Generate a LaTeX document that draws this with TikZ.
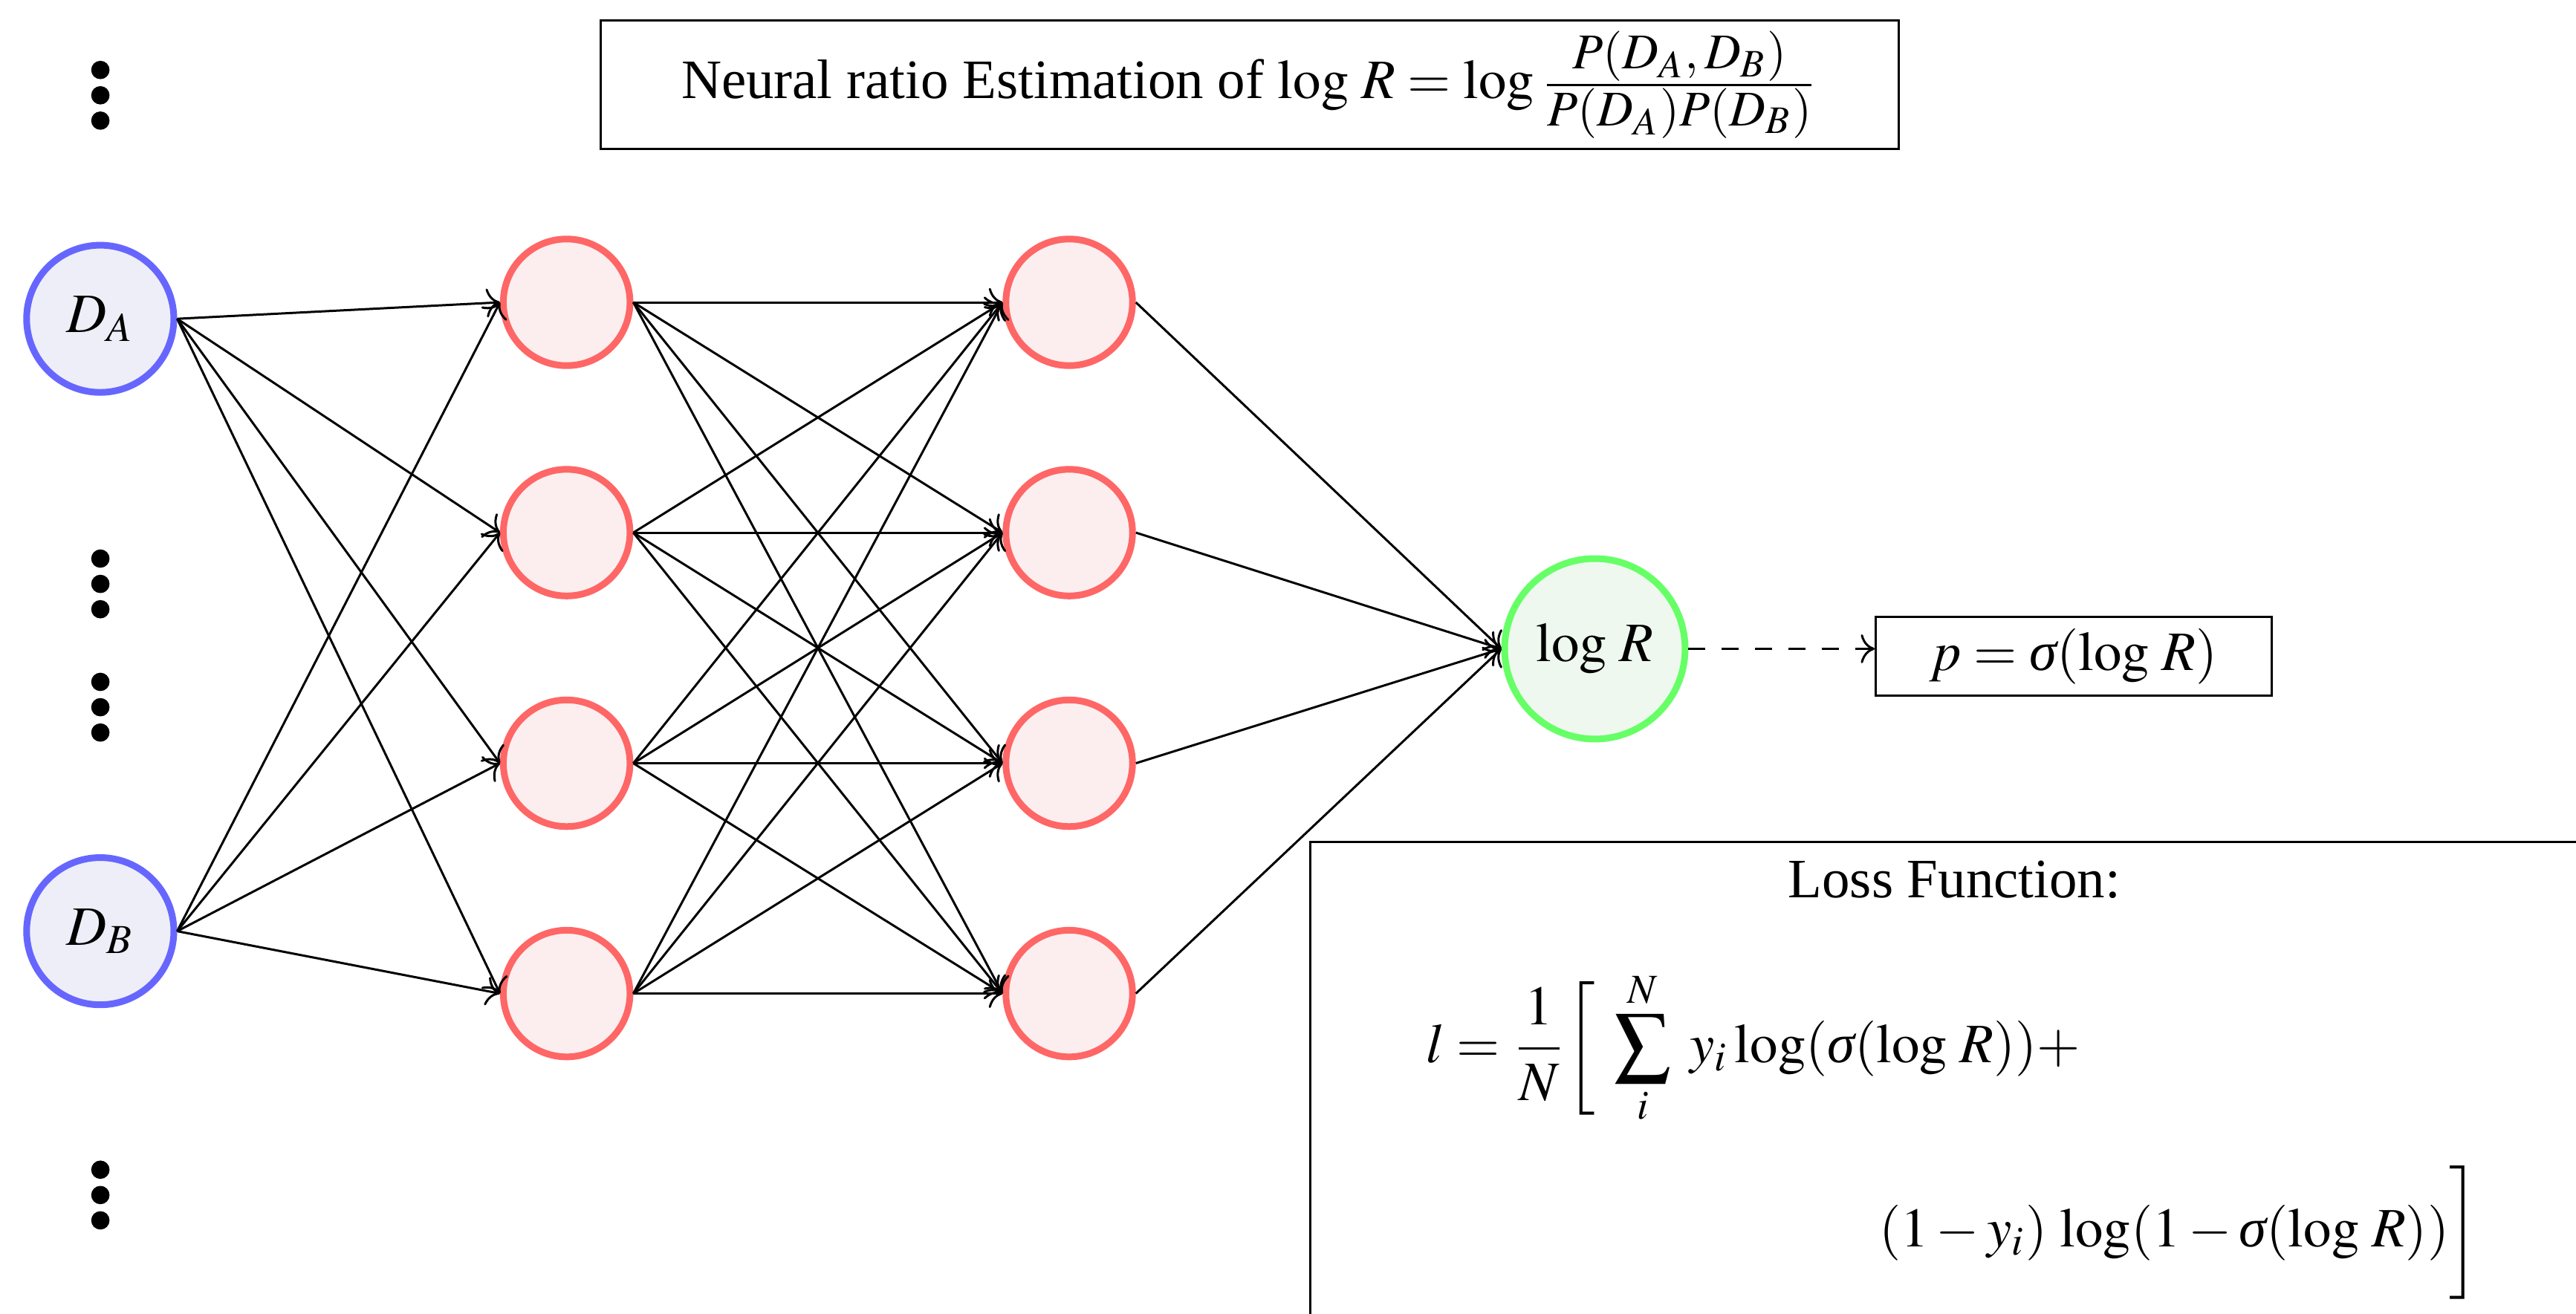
\documentclass[tikz,border=0pt]{standalone}
\usepackage{mathptmx}
\usepackage[no-math]{fontspec}
\setmainfont{Liberation Serif}
\usepackage{xcolor}
\usepackage{tikz}
\usetikzlibrary{arrows.meta, positioning}
\definecolor{inpfill}{HTML}{EEEEF8}
\definecolor{hidfill}{HTML}{FCEEEE}
\definecolor{outfill}{HTML}{EEF8EE}
\newcommand{\sgm}{\mathord{\mbox{\itshape σ}}}

\begin{document}
\begin{tikzpicture}[
  every node/.style={font=\normalsize},
  inp/.style={circle, draw=blue!60, very thick, fill=inpfill,
              minimum size=0.93cm, inner sep=0pt},
  hid/.style={circle, draw=red!60, very thick, fill=hidfill,
              minimum size=0.80cm, inner sep=0pt},
  outn/.style={circle, draw=green!60, very thick, fill=outfill,
               minimum size=1.14cm, inner sep=0pt},
  box/.style={draw, inner sep=2pt},
  arr/.style={->},
]
  \clip (0,0) rectangle (16.27,8.30);

  \node[box, minimum width=8.2cm, minimum height=0.8cm] (title) at (7.894, 7.765)
    {Neural ratio Estimation of $\log\,R = \log\frac{\mbox{\small$P(D_A,D_B)$}}{\mbox{\small$P(D_A)P(D_B)$}}$};

  \node[inp] (da) at (0.633, 6.286) {$D_A$};
  \node[inp] (db) at (0.633, 2.417) {$D_B$};
  \foreach \y in {7.698, 4.611, 3.832, 0.750}
    \foreach \k in {-1, 0, 1}
      \fill (0.634, \y+\k*0.16) circle (0.058);

  \foreach \i/\y in {1/6.390, 2/4.935, 3/3.478, 4/2.023} {
    \node[hid] (ha\i) at (3.579, \y) {};
    \node[hid] (hb\i) at (6.753, \y) {};
  }
  \node[outn] (out) at (10.073, 4.201) {$\log\,R$};
  \node[box, minimum width=2.5cm, minimum height=0.5cm] (prob) at (13.097, 4.155)
    {$p = \sgm(\log\,R)$};

  \foreach \s in {da, db}
    \foreach \t in {1, ..., 4}
      \draw[arr] (\s.east) -- (ha\t.west);
  \foreach \s in {1, ..., 4}
    \foreach \t in {1, ..., 4}
      \draw[arr] (ha\s.east) -- (hb\t.west);
  \foreach \s in {1, ..., 4}
    \draw[arr] (hb\s.east) -- (out.west);
  \draw[arr, dashed] (out.east) -- (out.east -| prob.west);

  \node[box, anchor=north west, minimum width=8.15cm, minimum height=3.4cm]
    (loss) at (8.268, 2.988) {};
  \node (losstitle) at (12.344, 2.743) {Loss Function:};
  \node[anchor=base west, inner sep=0pt] (lossa) at (9.0, 1.587)
    {$\displaystyle l = \frac{1}{N}\bigg[\;\sum_i^N\; y_i\log(\sgm(\log\,R))+$};
  \node[anchor=base east, inner sep=0pt] (lossb) at (15.66, 0.425)
    {$\displaystyle (1-y_i)\,\log(1-\sgm(\log\,R))\bigg]$};
\end{tikzpicture}
\end{document}
